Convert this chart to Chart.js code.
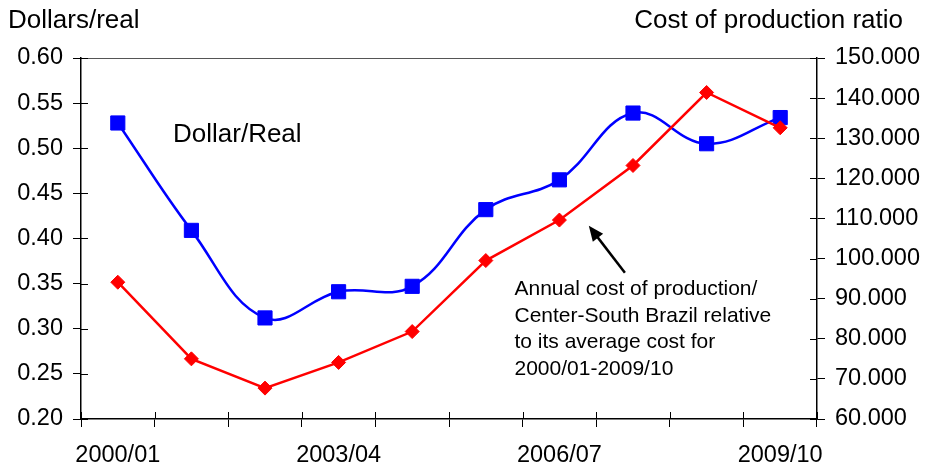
<!DOCTYPE html>
<html>
<head>
<meta charset="utf-8">
<script src="https://cdn.jsdelivr.net/npm/chart.js@4.4.1/dist/chart.umd.min.js"></script>
<style>
  html, body { margin: 0; padding: 0; background: #ffffff; }
  #wrap { width: 927px; height: 465px; }
</style>
</head>
<body>
<div id="wrap"><canvas id="chart" width="927" height="465"></canvas></div>
<script>
// Marketing seasons on the category axis
const seasons = ['2000/01', '2001/02', '2002/03', '2003/04', '2004/05',
                 '2005/06', '2006/07', '2007/08', '2008/09', '2009/10'];
// Seasons that carry a visible label
const labelledSeasons = ['2000/01', '2003/04', '2006/07', '2009/10'];

// Exchange rate, dollars per real (left axis)
const dollarPerReal = [0.528, 0.409, 0.312, 0.341, 0.347, 0.432, 0.465, 0.539, 0.505, 0.534];
// Center-South cost of production relative to its 2000/01-2009/10 average (right axis)
const costRatio = [94.1, 75.0, 67.7, 74.1, 81.8, 99.5, 109.6, 123.2, 141.4, 132.6];

// Axis ranges
const leftAxisRange = [0.20, 0.60, 0.05];
const rightAxisRange = [60, 150, 10];

// Texts
const leftAxisTitle = 'Dollars/real';
const rightAxisTitle = 'Cost of production ratio';
const rateLabel = 'Dollar/Real';
const costNote = ['Annual cost of production/', 'Center-South Brazil relative',
                  'to its average cost for', '2000/01-2009/10'];

const FONT = "'Liberation Sans', Arial, Helvetica, sans-serif";
const INK = '#000000';

// Draws the inner half of each axis tick, the top frame line, titles and notes
const decorations = {
  id: 'decorations',
  afterDraw(chart) {
    const { ctx, chartArea: a, scales } = chart;
    const x = scales.x, yl = scales.y, yr = scales.y1;
    ctx.save();
    ctx.lineWidth = 1;

    // top frame line
    ctx.beginPath();
    ctx.strokeStyle = '#555555';
    ctx.moveTo(a.left, a.top + 0.5);
    ctx.lineTo(a.right, a.top + 0.5);
    ctx.stroke();

    ctx.strokeStyle = INK;
    ctx.beginPath();
    for (let i = 0; i <= seasons.length; i++) {
      const px = Math.round(x.getPixelForValue(i - 0.5)) + 0.5;
      ctx.moveTo(px, a.bottom);
      ctx.lineTo(px, a.bottom - 7);
    }
    yl.ticks.forEach(t => {
      const py = Math.round(yl.getPixelForValue(t.value)) + 0.5;
      ctx.moveTo(a.left, py);
      ctx.lineTo(a.left + 7, py);
    });
    yr.ticks.forEach(t => {
      const py = Math.round(yr.getPixelForValue(t.value)) + 0.5;
      ctx.moveTo(a.right, py);
      ctx.lineTo(a.right - 7, py);
    });
    ctx.stroke();

    // axis titles
    ctx.fillStyle = INK;
    ctx.textBaseline = 'alphabetic';
    ctx.font = `26px ${FONT}`;
    ctx.textAlign = 'left';
    ctx.fillText(leftAxisTitle, 8, 28);
    ctx.textAlign = 'right';
    ctx.fillText(rightAxisTitle, 903, 28);

    // series note for the exchange rate
    ctx.textAlign = 'left';
    ctx.textBaseline = 'middle';
    ctx.font = `26px ${FONT}`;
    ctx.fillText(rateLabel, x.getPixelForValue(0.75), yl.getPixelForValue(0.5147));

    // note for the cost ratio
    ctx.font = `21px ${FONT}`;
    const noteX = x.getPixelForValue(5.39);
    const noteY = yl.getPixelForValue(0.344);
    costNote.forEach((line, i) => ctx.fillText(line, noteX, noteY + i * 26.8));

    // arrow pointing at the cost line
    const tx = x.getPixelForValue(6.40), ty = yl.getPixelForValue(0.414);
    const sx = x.getPixelForValue(6.89), sy = yl.getPixelForValue(0.362);
    const ang = Math.atan2(ty - sy, tx - sx);
    const headLen = 15, headHalf = 6.5;
    ctx.lineWidth = 2.5;
    ctx.beginPath();
    ctx.moveTo(sx, sy);
    ctx.lineTo(tx - Math.cos(ang) * headLen * 0.8, ty - Math.sin(ang) * headLen * 0.8);
    ctx.stroke();
    ctx.beginPath();
    ctx.moveTo(tx, ty);
    ctx.lineTo(tx - Math.cos(ang) * headLen - Math.sin(ang) * headHalf,
               ty - Math.sin(ang) * headLen + Math.cos(ang) * headHalf);
    ctx.lineTo(tx - Math.cos(ang) * headLen + Math.sin(ang) * headHalf,
               ty - Math.sin(ang) * headLen - Math.cos(ang) * headHalf);
    ctx.closePath();
    ctx.fill();
    ctx.restore();
  }
};

const tickFont = { family: FONT, size: 23.5 };

new Chart(document.getElementById('chart'), {
  type: 'line',
  data: {
    labels: seasons,
    datasets: [
      {
        label: 'Cost of production ratio',
        data: costRatio,
        yAxisID: 'y1',
        borderColor: '#ff0000',
        backgroundColor: '#ff0000',
        borderWidth: 2.5,
        pointStyle: 'rectRot',
        pointRadius: 7,
        pointBorderWidth: 1,
        tension: 0,
        order: 1
      },
      {
        label: 'Dollar/Real',
        data: dollarPerReal,
        yAxisID: 'y',
        borderColor: '#0000ff',
        backgroundColor: '#0000ff',
        borderWidth: 2.5,
        pointStyle: 'rect',
        pointRadius: 10,
        pointBorderWidth: 1,
        tension: 0.4,
        order: 2
      }
    ]
  },
  options: {
    responsive: false,
    devicePixelRatio: 1,
    animation: false,
    layout: { padding: { top: 58, left: 0, right: 0, bottom: 0 } },
    plugins: { legend: { display: false }, tooltip: { enabled: false } },
    scales: {
      x: {
        type: 'category',
        offset: true,
        grid: { offset: true, drawOnChartArea: false, tickLength: 8, color: INK, lineWidth: 1 },
        border: { display: true, color: INK, width: 1.5 },
        ticks: {
          autoSkip: false,
          maxRotation: 0,
          minRotation: 0,
          padding: 14,
          color: INK,
          font: tickFont,
          callback(value) {
            const label = this.getLabelForValue(value);
            return labelledSeasons.includes(label) ? label : '';
          }
        },
        afterFit(scale) { scale.height = 46; }
      },
      y: {
        position: 'left',
        min: leftAxisRange[0],
        max: leftAxisRange[1],
        grid: { drawOnChartArea: false, tickLength: 8, color: INK, lineWidth: 1 },
        border: { display: true, color: INK, width: 1.5 },
        ticks: {
          stepSize: leftAxisRange[2],
          padding: 10,
          color: INK,
          font: tickFont,
          callback: v => v.toFixed(2)
        },
        afterFit(scale) { scale.width = 81; }
      },
      y1: {
        position: 'right',
        min: rightAxisRange[0],
        max: rightAxisRange[1],
        grid: { drawOnChartArea: false, tickLength: 8, color: INK, lineWidth: 1 },
        border: { display: true, color: INK, width: 1.5 },
        ticks: {
          stepSize: rightAxisRange[2],
          padding: 10,
          color: INK,
          font: tickFont,
          callback: v => v.toFixed(3)
        },
        afterFit(scale) { scale.width = 110; }
      }
    }
  },
  plugins: [decorations]
});
</script>
</body>
</html>
